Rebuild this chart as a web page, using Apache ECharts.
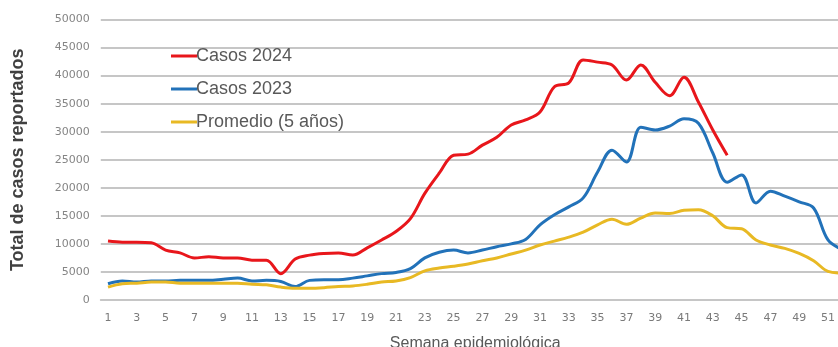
<!DOCTYPE html>
<html>
<head>
<meta charset="utf-8">
<script src="https://cdn.jsdelivr.net/npm/echarts@6/dist/echarts.min.js"></script>
<style>
  html, body { margin: 0; padding: 0; background: #ffffff; }
  #chart { width: 838px; height: 347px; }
</style>
</head>
<body>
<div id="chart"></div>
<script>
// Semanas epidemiológicas 1..52
const semanas = Array.from({ length: 52 }, (_, i) => String(i + 1));

// Casos reportados por semana, 2024 (hasta la semana 44)
const casos2024 = [
  10500, 10300, 10300, 10200, 8900, 8400, 7500, 7700, 7500, 7500,
  7100, 7100, 4700, 7300, 8000, 8300, 8400, 8000, 9300, 10700,
  12200, 14500, 19000, 22600, 25800, 26000, 27600, 29000, 31200, 32100,
  33500, 38000, 38700, 42800, 42400, 41900, 39200, 41900, 38800, 36400,
  39700, 35300, 30300, 25800
];

// Casos reportados por semana, 2023
const casos2023 = [
  2900, 3400, 3200, 3400, 3400, 3500, 3500, 3500, 3700, 3900,
  3400, 3500, 3300, 2400, 3500, 3600, 3600, 3900, 4300, 4700,
  4900, 5600, 7500, 8500, 8900, 8400, 8900, 9500, 10000, 10800,
  13400, 15200, 16600, 18200, 22800, 26700, 24600, 30800, 30300, 31000,
  32300, 31500, 26200, 21000, 22300, 17300, 19400, 18500, 17500, 16400,
  10700, 9000
];

// Promedio de los últimos 5 años
const promedio5 = [
  2300, 2900, 3000, 3200, 3200, 3000, 3000, 3000, 3000, 3000,
  2800, 2700, 2300, 2100, 2100, 2200, 2400, 2500, 2800, 3200,
  3400, 4000, 5200, 5700, 6000, 6400, 7000, 7500, 8200, 8900,
  9800, 10500, 11200, 12100, 13400, 14400, 13500, 14600, 15500, 15400,
  16000, 16100, 15000, 12900, 12700, 10700, 9800, 9200, 8300, 7000,
  5100, 4800
];

const chart = echarts.init(document.getElementById('chart'), null, { renderer: 'canvas' });

const lineSeries = (name, data, color) => ({
  name: name,
  type: 'line',
  data: data,
  smooth: 0.35,
  showSymbol: false,
  symbol: 'none',
  connectNulls: false,
  lineStyle: { color: color, width: 3 },
  itemStyle: { color: color },
  emphasis: { disabled: true }
});

chart.setOption({
  animation: false,
  backgroundColor: '#ffffff',
  textStyle: { fontFamily: 'Liberation Sans, Arial, sans-serif' },
  // The plot runs a little past the right edge, so week 52 falls outside the canvas.
  grid: {
    left: 100.8, top: 19.5, width: 748.8, height: 280.5,
    containLabel: false, outerBoundsMode: 'none'
  },
  legend: {
    orient: 'vertical',
    left: 166,
    top: 42,
    itemWidth: 26,
    itemHeight: 3,
    itemGap: 15,
    icon: 'rect',
    textStyle: { fontSize: 18, color: '#595959', padding: [0, 0, 0, -6] },
    data: ['Casos 2024', 'Casos 2023', 'Promedio (5 años)']
  },
  xAxis: {
    type: 'category',
    data: semanas,
    boundaryGap: true,
    name: 'Semana epidemiológica',
    nameLocation: 'middle',
    nameGap: 36,
    nameTextStyle: { fontSize: 16, color: '#595959' },
    axisLine: { show: true, lineStyle: { color: '#c6c6c6', width: 2 } },
    axisTick: { show: false },
    axisLabel: {
      interval: 1, fontSize: 11, color: '#7a7a7a', margin: 13,
      fontFamily: 'DejaVu Sans'
    },
    splitLine: { show: false }
  },
  yAxis: {
    type: 'value',
    min: 0,
    max: 50000,
    interval: 5000,
    name: 'Total de casos reportados',
    nameLocation: 'middle',
    nameGap: 74,
    nameRotate: 90,
    nameTextStyle: { fontSize: 18, fontWeight: 'bold', color: '#404040' },
    axisLine: { show: false },
    axisTick: { show: false },
    axisLabel: {
      fontSize: 11, color: '#858585', margin: 11, fontFamily: 'DejaVu Sans',
      formatter: (v) => String(v)
    },
    splitLine: { show: true, lineStyle: { color: '#c6c6c6', width: 2 } }
  },
  series: [
    lineSeries('Casos 2024', casos2024, '#e8161b'),
    lineSeries('Casos 2023', casos2023, '#2272b9'),
    lineSeries('Promedio (5 años)', promedio5, '#e8b924')
  ]
});
</script>
</body>
</html>
